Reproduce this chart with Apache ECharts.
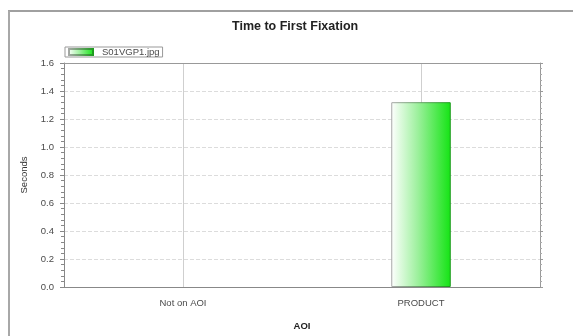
<!DOCTYPE html>
<html>
<head>
<meta charset="utf-8">
<title>Time to First Fixation</title>
<script src="https://cdn.jsdelivr.net/npm/echarts@6/dist/echarts.min.js"></script>
<style>
  html, body { margin: 0; padding: 0; background: #fff; }
  #chart { width: 573px; height: 336px; }
</style>
</head>
<body>
<div id="chart"></div>
<script>
// Areas of interest along the x axis
const categories = ['Not on AOI', 'PRODUCT'];
// Seconds until first fixation per AOI (no fixation recorded for "Not on AOI")
const fixationSeconds = [null, 1.32];
const seriesName = 'S01VGP1.jpg';
const yMin = 0, yMax = 1.6, yStep = 0.2;

const barFill = new echarts.graphic.LinearGradient(0, 0, 1, 0, [
  { offset: 0, color: '#ffffff' },
  { offset: 0.45, color: '#9cf09c' },
  { offset: 1, color: '#14e414' }
]);
const barEdge = new echarts.graphic.LinearGradient(0, 0, 1, 0, [
  { offset: 0, color: '#a8a8a8' },
  { offset: 1, color: '#1a9a1a' }
]);

const textColor = '#4a4a4a';
const font = 'Liberation Sans, Arial, sans-serif';

const chart = echarts.init(document.getElementById('chart'), null, { renderer: 'canvas' });
chart.setOption({
  backgroundColor: '#ffffff',
  animation: false,
  title: {
    text: 'Time to First Fixation',
    left: 227, top: 15,
    textStyle: { fontFamily: font, fontSize: 12.5, fontWeight: 'bold', color: '#222' }
  },
  legend: {
    left: 65, top: 47,
    itemWidth: 24, itemHeight: 6, itemGap: 4,
    padding: [0, 3, 0, 3],
    borderColor: '#999', borderWidth: 1,
    textStyle: { fontFamily: font, fontSize: 9.5, color: textColor, padding: [0, 3, 0, 4] },
    data: [{ name: seriesName, icon: 'rect' }]
  },
  grid: { left: 64, right: 33, top: 63, bottom: 48 },
  xAxis: {
    type: 'category',
    data: categories,
    boundaryGap: true,
    name: 'AOI',
    nameLocation: 'middle',
    nameGap: 34,
    nameTextStyle: { fontFamily: font, fontSize: 9.5, fontWeight: 'bold', color: '#222' },
    axisLine: { lineStyle: { color: '#888', width: 1 } },
    axisTick: { alignWithLabel: true, length: 3, lineStyle: { color: '#888' } },
    axisLabel: { fontFamily: font, fontSize: 9.5, color: textColor, margin: 11 },
    splitLine: { show: false }
  },
  yAxis: [{
    type: 'value',
    min: yMin, max: yMax, interval: yStep,
    name: 'Seconds',
    nameLocation: 'middle',
    nameGap: 35,
    nameTextStyle: { fontFamily: font, fontSize: 9.5, color: '#333' },
    axisLine: { show: true, lineStyle: { color: '#888' } },
    axisTick: { show: true, length: 4, lineStyle: { color: '#888' } },
    minorTick: { show: true, splitNumber: 5, length: 3, lineStyle: { color: '#888' } },
    axisLabel: {
      fontFamily: font, fontSize: 9.5, color: textColor, margin: 10,
      formatter: v => v.toFixed(1)
    },
    splitLine: { show: true, lineStyle: { color: '#dcdcdc', type: 'dashed', width: 1 } }
  }, {
    type: 'value',
    position: 'right',
    min: yMin, max: yMax, interval: yStep,
    axisLine: { show: true, lineStyle: { color: '#999' } },
    axisTick: { show: true, length: 3, lineStyle: { color: '#999' } },
    minorTick: { show: true, splitNumber: 5, length: 2, lineStyle: { color: '#aaa' } },
    axisLabel: { show: false },
    splitLine: { show: false }
  }],
  graphic: [
    // outer frame: top and left edges
    { type: 'line', z: 100, shape: { x1: 8, y1: 11, x2: 573, y2: 11 }, style: { stroke: '#a0a0a0', lineWidth: 2 } },
    { type: 'line', z: 100, shape: { x1: 9, y1: 11, x2: 9, y2: 336 }, style: { stroke: '#a8a8a8', lineWidth: 2 } },
    // top edge of the plot area
    { type: 'line', z: 100, shape: { x1: 64, y1: 63.5, x2: 540, y2: 63.5 }, style: { stroke: '#999', lineWidth: 1 } }
  ],
  series: [{
    // category guide lines drawn behind the bars
    type: 'line',
    data: [],
    z: 1,
    silent: true,
    markLine: {
      z: 1,
      silent: true,
      symbol: 'none',
      label: { show: false },
      lineStyle: { color: '#cfcfcf', type: 'solid', width: 1 },
      data: categories.map(c => ({ xAxis: c }))
    }
  }, {
    name: seriesName,
    type: 'bar',
    z: 3,
    data: fixationSeconds,
    barWidth: '25%',
    itemStyle: { color: barFill, borderColor: barEdge, borderWidth: 1 }
  }]
});
</script>
</body>
</html>
